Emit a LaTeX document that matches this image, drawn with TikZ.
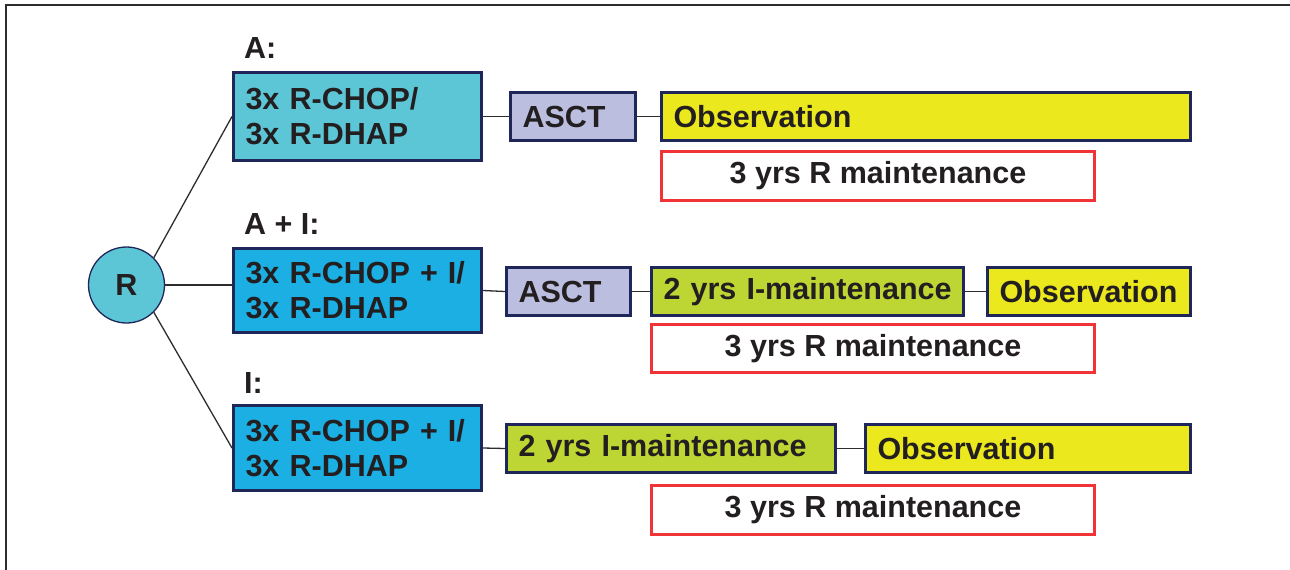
\documentclass[tikz,border=0pt]{standalone}
\usepackage{fontspec}
\setmainfont{Liberation Sans}
\definecolor{navy}{RGB}{31,38,90}
\definecolor{ink}{RGB}{35,31,32}
\definecolor{tealA}{RGB}{92,198,215}
\definecolor{blueB}{RGB}{27,175,227}
\definecolor{lav}{RGB}{187,190,222}
\definecolor{yel}{RGB}{235,232,30}
\definecolor{grn}{RGB}{190,214,52}
\definecolor{redc}{RGB}{239,51,55}
\definecolor{linec}{RGB}{45,45,45}
\begin{document}
\begin{tikzpicture}[x=1pt,y=-1pt,
  txt/.style={font=\bfseries\fontsize{30.5}{35}\selectfont, text=ink},
  box/.style={txt, draw=navy, line width=3pt, inner xsep=12pt, inner ysep=0pt, align=left},
  rbox/.style={txt, draw=redc, line width=3pt, fill=white, inner sep=0pt, align=center},
  lab/.style={txt, anchor=west, inner sep=0pt},
  conn/.style={draw=linec, line width=1.3pt},
  framel/.style={draw=linec, line width=1.5pt}]
\useasboundingbox (0,0) rectangle (1290,570);
\draw[framel] (6,570) -- (6,5) -- (1290,5);

% randomisation circle
\node[circle, draw=navy, line width=1.3pt, fill=tealA, minimum size=76pt, inner sep=0pt, txt] (R) at (126.5,285) {R};

% arm labels
\node[lab] (labA) at (244,48) {A:};
\node[lab] (labAI) at (244,224) {A + I:};
\node[lab] (labI) at (244,383) {I:};

% arm A
\node[box, fill=tealA, minimum width=248pt, minimum height=88pt, text width=224pt] (A) at (357.5,116.5) {3x R-CHOP/\\3x R-DHAP};
\node[box, fill=lav, minimum width=125pt, minimum height=48pt, text width=101pt] (ASCT1) at (573,116.5) {\mbox{ASCT}};
\node[box, fill=yel, minimum width=529pt, minimum height=48pt, text width=505pt] (OBS1) at (926,116.5) {\mbox{Observation}};
\node[rbox, minimum width=433pt, minimum height=49pt] (RM1) at (878,176) {3 yrs R maintenance};

% arm A + I
\node[box, fill=blueB, minimum width=248pt, minimum height=84pt, text width=224pt] (AI) at (357.5,290.5) {3x R-CHOP + I/\\3x R-DHAP};
\node[box, fill=lav, minimum width=124pt, minimum height=48pt, text width=100pt] (ASCT2) at (568.5,291.5) {\mbox{ASCT}};
\node[box, fill=grn, minimum width=312pt, minimum height=48pt, text width=288pt] (IM2) at (807.5,291.5) {\mbox{2 yrs I-maintenance}};
\node[box, fill=yel, minimum width=203pt, minimum height=48pt, text width=179pt] (OBS2) at (1089,291.5) {\mbox{Observation}};
\node[rbox, minimum width=443pt, minimum height=48pt] (RM2) at (873,348.5) {3 yrs R maintenance};

% arm I
\node[box, fill=blueB, minimum width=248pt, minimum height=85pt, text width=224pt] (I) at (357.5,448) {3x R-CHOP + I/\\3x R-DHAP};
\node[box, fill=grn, minimum width=329pt, minimum height=48pt, text width=305pt] (IM3) at (671,448.5) {\mbox{2 yrs I-maintenance}};
\node[box, fill=yel, minimum width=325pt, minimum height=48pt, text width=301pt] (OBS3) at (1028,448.5) {\mbox{Observation}};
\node[rbox, minimum width=443pt, minimum height=49pt] (RM3) at (873,510) {3 yrs R maintenance};

% connectors
\draw[conn] (R.45) -- (A.west);
\draw[conn] (R.east) -- (R.east -| AI.west);
\draw[conn] (R.-45) -- (I.west);
\draw[conn] (A.east) -- (ASCT1.west);
\draw[conn] (ASCT1.east) -- (OBS1.west);
\draw[conn] (AI.east) -- (ASCT2.west);
\draw[conn] (ASCT2.east) -- (IM2.west);
\draw[conn] (IM2.east) -- (OBS2.west);
\draw[conn] (I.east) -- (IM3.west);
\draw[conn] (IM3.east) -- (OBS3.west);
\end{tikzpicture}
\end{document}
